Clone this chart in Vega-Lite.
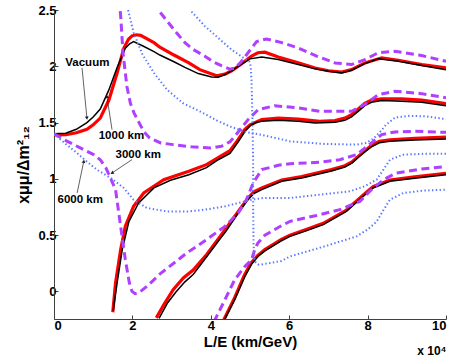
{
  "$schema": "https://vega.github.io/schema/vega-lite/v6.json",
  "width": 392,
  "height": 309,
  "autosize": {"type": "none"},
  "padding": {"left": 54, "top": 10, "right": 11, "bottom": 42},
  "background": "white",
  "view": {"stroke": null},
  "title": {"text": "x 10⁴", "orient": "bottom", "anchor": "end", "fontSize": 12, "fontWeight": "bold", "font": "Liberation Sans", "color": "black", "offset": -3},
  "config": {
    "axis": {"grid": false, "domainColor": "#404040", "tickColor": "#404040", "tickSize": -4, "labelFont": "Liberation Sans", "labelFontWeight": "bold", "labelFontSize": 13, "labelColor": "black", "titleFont": "Liberation Sans", "titleFontWeight": "bold", "titleFontSize": 15, "titleColor": "black"}
  },
  "datasets": {
    "curves": [
      {"g":"vac","s":"KA","x":0,"y":1.40},{"g":"vac","s":"KA","x":0.3,"y":1.405},{"g":"vac","s":"KA","x":0.57,"y":1.44},{"g":"vac","s":"KA","x":0.84,"y":1.50},{"g":"vac","s":"KA","x":1.0,"y":1.55},{"g":"vac","s":"KA","x":1.18,"y":1.62},{"g":"vac","s":"KA","x":1.40,"y":1.79},{"g":"vac","s":"KA","x":1.61,"y":1.99},{"g":"vac","s":"KA","x":1.82,"y":2.16},{"g":"vac","s":"KA","x":1.93,"y":2.20},{"g":"vac","s":"KA","x":2.03,"y":2.22},{"g":"vac","s":"KA","x":2.27,"y":2.18},{"g":"vac","s":"KA","x":2.55,"y":2.13},{"g":"vac","s":"KA","x":2.70,"y":2.10},{"g":"vac","s":"KA","x":3.06,"y":2.04},{"g":"vac","s":"KA","x":3.34,"y":1.99},{"g":"vac","s":"KA","x":3.68,"y":1.935},{"g":"vac","s":"KA","x":4.02,"y":1.905},{"g":"vac","s":"KA","x":4.19,"y":1.903},{"g":"vac","s":"KA","x":4.36,"y":1.926},{"g":"vac","s":"KA","x":4.53,"y":1.96},{"g":"vac","s":"KA","x":4.70,"y":2.0},{"g":"vac","s":"KA","x":5.0,"y":2.066},{"g":"vac","s":"KA","x":5.30,"y":2.083},{"g":"vac","s":"KA","x":5.72,"y":2.06},{"g":"vac","s":"KA","x":6.23,"y":2.015},{"g":"vac","s":"KA","x":6.66,"y":1.977},{"g":"vac","s":"KA","x":7.0,"y":1.955},{"g":"vac","s":"KA","x":7.34,"y":1.94},{"g":"vac","s":"KA","x":7.59,"y":1.965},{"g":"vac","s":"KA","x":7.93,"y":2.024},{"g":"vac","s":"KA","x":8.27,"y":2.066},{"g":"vac","s":"KA","x":8.78,"y":2.045},{"g":"vac","s":"KA","x":9.38,"y":2.006},{"g":"vac","s":"KA","x":10,"y":1.97},
      {"g":"vac","s":"KB","x":1.51,"y":-0.17},{"g":"vac","s":"KB","x":1.61,"y":0.075},{"g":"vac","s":"KB","x":1.74,"y":0.37},{"g":"vac","s":"KB","x":1.91,"y":0.62},{"g":"vac","s":"KB","x":2.16,"y":0.786},{"g":"vac","s":"KB","x":2.55,"y":0.92},{"g":"vac","s":"KB","x":2.97,"y":0.987},{"g":"vac","s":"KB","x":3.44,"y":1.037},{"g":"vac","s":"KB","x":3.89,"y":1.10},{"g":"vac","s":"KB","x":4.19,"y":1.17},{"g":"vac","s":"KB","x":4.49,"y":1.225},{"g":"vac","s":"KB","x":4.70,"y":1.33},{"g":"vac","s":"KB","x":4.87,"y":1.42},{"g":"vac","s":"KB","x":5.0,"y":1.47},{"g":"vac","s":"KB","x":5.15,"y":1.50},{"g":"vac","s":"KB","x":5.30,"y":1.512},{"g":"vac","s":"KB","x":5.72,"y":1.52},{"g":"vac","s":"KB","x":6.23,"y":1.511},{"g":"vac","s":"KB","x":6.66,"y":1.497},{"g":"vac","s":"KB","x":7.17,"y":1.502},{"g":"vac","s":"KB","x":7.42,"y":1.52},{"g":"vac","s":"KB","x":7.59,"y":1.55},{"g":"vac","s":"KB","x":7.76,"y":1.60},{"g":"vac","s":"KB","x":7.93,"y":1.65},{"g":"vac","s":"KB","x":8.1,"y":1.68},{"g":"vac","s":"KB","x":8.36,"y":1.695},{"g":"vac","s":"KB","x":8.87,"y":1.69},{"g":"vac","s":"KB","x":9.38,"y":1.68},{"g":"vac","s":"KB","x":10,"y":1.65},
      {"g":"vac","s":"KC","x":2.68,"y":-0.24},{"g":"vac","s":"KC","x":2.9,"y":-0.1},{"g":"vac","s":"KC","x":3.12,"y":0.0},{"g":"vac","s":"KC","x":3.34,"y":0.085},{"g":"vac","s":"KC","x":3.55,"y":0.15},{"g":"vac","s":"KC","x":3.9,"y":0.31},{"g":"vac","s":"KC","x":4.2,"y":0.45},{"g":"vac","s":"KC","x":4.4,"y":0.54},{"g":"vac","s":"KC","x":4.70,"y":0.697},{"g":"vac","s":"KC","x":4.95,"y":0.815},{"g":"vac","s":"KC","x":5.1,"y":0.87},{"g":"vac","s":"KC","x":5.30,"y":0.904},{"g":"vac","s":"KC","x":5.81,"y":0.978},{"g":"vac","s":"KC","x":6.32,"y":1.008},{"g":"vac","s":"KC","x":6.78,"y":1.046},{"g":"vac","s":"KC","x":7.08,"y":1.07},{"g":"vac","s":"KC","x":7.42,"y":1.105},{"g":"vac","s":"KC","x":7.6,"y":1.14},{"g":"vac","s":"KC","x":7.76,"y":1.19},{"g":"vac","s":"KC","x":7.93,"y":1.24},{"g":"vac","s":"KC","x":8.10,"y":1.285},{"g":"vac","s":"KC","x":8.3,"y":1.32},{"g":"vac","s":"KC","x":8.57,"y":1.333},{"g":"vac","s":"KC","x":9.21,"y":1.345},{"g":"vac","s":"KC","x":10,"y":1.355},
      {"g":"vac","s":"KD","x":4.34,"y":-0.26},{"g":"vac","s":"KD","x":4.61,"y":-0.074},{"g":"vac","s":"KD","x":4.87,"y":0.133},{"g":"vac","s":"KD","x":5.04,"y":0.24},{"g":"vac","s":"KD","x":5.2,"y":0.31},{"g":"vac","s":"KD","x":5.38,"y":0.36},{"g":"vac","s":"KD","x":5.8,"y":0.45},{"g":"vac","s":"KD","x":6.02,"y":0.489},{"g":"vac","s":"KD","x":6.45,"y":0.54},{"g":"vac","s":"KD","x":6.87,"y":0.593},{"g":"vac","s":"KD","x":7.46,"y":0.711},{"g":"vac","s":"KD","x":7.89,"y":0.845},{"g":"vac","s":"KD","x":8.14,"y":0.919},{"g":"vac","s":"KD","x":8.57,"y":0.978},{"g":"vac","s":"KD","x":9.2,"y":1.005},{"g":"vac","s":"KD","x":10,"y":1.037},
      {"g":"1000","s":"RA","x":0,"y":1.39},{"g":"1000","s":"RA","x":0.3,"y":1.392},{"g":"1000","s":"RA","x":0.57,"y":1.41},{"g":"1000","s":"RA","x":0.84,"y":1.44},{"g":"1000","s":"RA","x":1.0,"y":1.48},{"g":"1000","s":"RA","x":1.18,"y":1.54},{"g":"1000","s":"RA","x":1.40,"y":1.70},{"g":"1000","s":"RA","x":1.61,"y":1.94},{"g":"1000","s":"RA","x":1.78,"y":2.16},{"g":"1000","s":"RA","x":1.90,"y":2.24},{"g":"1000","s":"RA","x":1.99,"y":2.27},{"g":"1000","s":"RA","x":2.1,"y":2.28},{"g":"1000","s":"RA","x":2.21,"y":2.275},{"g":"1000","s":"RA","x":2.55,"y":2.21},{"g":"1000","s":"RA","x":2.70,"y":2.17},{"g":"1000","s":"RA","x":3.06,"y":2.10},{"g":"1000","s":"RA","x":3.44,"y":2.03},{"g":"1000","s":"RA","x":3.72,"y":1.97},{"g":"1000","s":"RA","x":4.15,"y":1.915},{"g":"1000","s":"RA","x":4.36,"y":1.93},{"g":"1000","s":"RA","x":4.53,"y":1.96},{"g":"1000","s":"RA","x":4.70,"y":2.0},{"g":"1000","s":"RA","x":5.04,"y":2.09},{"g":"1000","s":"RA","x":5.2,"y":2.12},{"g":"1000","s":"RA","x":5.38,"y":2.125},{"g":"1000","s":"RA","x":5.72,"y":2.083},{"g":"1000","s":"RA","x":6.23,"y":2.03},{"g":"1000","s":"RA","x":6.66,"y":1.985},{"g":"1000","s":"RA","x":7.0,"y":1.96},{"g":"1000","s":"RA","x":7.34,"y":1.948},{"g":"1000","s":"RA","x":7.59,"y":1.97},{"g":"1000","s":"RA","x":7.93,"y":2.03},{"g":"1000","s":"RA","x":8.36,"y":2.075},{"g":"1000","s":"RA","x":8.78,"y":2.054},{"g":"1000","s":"RA","x":9.38,"y":2.015},{"g":"1000","s":"RA","x":10,"y":1.986},
      {"g":"1000","s":"RB","x":1.50,"y":-0.185},{"g":"1000","s":"RB","x":1.57,"y":0.075},{"g":"1000","s":"RB","x":1.70,"y":0.37},{"g":"1000","s":"RB","x":1.82,"y":0.58},{"g":"1000","s":"RB","x":2.03,"y":0.756},{"g":"1000","s":"RB","x":2.29,"y":0.875},{"g":"1000","s":"RB","x":2.80,"y":0.993},{"g":"1000","s":"RB","x":3.44,"y":1.067},{"g":"1000","s":"RB","x":3.89,"y":1.126},{"g":"1000","s":"RB","x":4.2,"y":1.19},{"g":"1000","s":"RB","x":4.49,"y":1.25},{"g":"1000","s":"RB","x":4.70,"y":1.35},{"g":"1000","s":"RB","x":4.87,"y":1.44},{"g":"1000","s":"RB","x":5.0,"y":1.48},{"g":"1000","s":"RB","x":5.30,"y":1.526},{"g":"1000","s":"RB","x":5.72,"y":1.54},{"g":"1000","s":"RB","x":6.23,"y":1.53},{"g":"1000","s":"RB","x":6.78,"y":1.51},{"g":"1000","s":"RB","x":7.17,"y":1.518},{"g":"1000","s":"RB","x":7.42,"y":1.54},{"g":"1000","s":"RB","x":7.59,"y":1.57},{"g":"1000","s":"RB","x":7.93,"y":1.67},{"g":"1000","s":"RB","x":8.1,"y":1.70},{"g":"1000","s":"RB","x":8.36,"y":1.71},{"g":"1000","s":"RB","x":8.87,"y":1.71},{"g":"1000","s":"RB","x":9.38,"y":1.70},{"g":"1000","s":"RB","x":10,"y":1.668},
      {"g":"1000","s":"RC","x":2.61,"y":-0.235},{"g":"1000","s":"RC","x":2.8,"y":-0.12},{"g":"1000","s":"RC","x":3.04,"y":0.015},{"g":"1000","s":"RC","x":3.3,"y":0.12},{"g":"1000","s":"RC","x":3.55,"y":0.19},{"g":"1000","s":"RC","x":3.9,"y":0.33},{"g":"1000","s":"RC","x":4.2,"y":0.47},{"g":"1000","s":"RC","x":4.4,"y":0.565},{"g":"1000","s":"RC","x":4.70,"y":0.71},{"g":"1000","s":"RC","x":4.95,"y":0.83},{"g":"1000","s":"RC","x":5.1,"y":0.885},{"g":"1000","s":"RC","x":5.30,"y":0.92},{"g":"1000","s":"RC","x":5.81,"y":0.99},{"g":"1000","s":"RC","x":6.32,"y":1.02},{"g":"1000","s":"RC","x":6.78,"y":1.058},{"g":"1000","s":"RC","x":7.08,"y":1.082},{"g":"1000","s":"RC","x":7.42,"y":1.117},{"g":"1000","s":"RC","x":7.6,"y":1.15},{"g":"1000","s":"RC","x":7.76,"y":1.2},{"g":"1000","s":"RC","x":7.93,"y":1.25},{"g":"1000","s":"RC","x":8.10,"y":1.297},{"g":"1000","s":"RC","x":8.3,"y":1.333},{"g":"1000","s":"RC","x":8.57,"y":1.347},{"g":"1000","s":"RC","x":9.21,"y":1.36},{"g":"1000","s":"RC","x":10,"y":1.37},
      {"g":"1000","s":"RD","x":4.32,"y":-0.26},{"g":"1000","s":"RD","x":4.59,"y":-0.07},{"g":"1000","s":"RD","x":4.85,"y":0.14},{"g":"1000","s":"RD","x":5.02,"y":0.25},{"g":"1000","s":"RD","x":5.2,"y":0.32},{"g":"1000","s":"RD","x":5.38,"y":0.372},{"g":"1000","s":"RD","x":5.8,"y":0.462},{"g":"1000","s":"RD","x":6.02,"y":0.5},{"g":"1000","s":"RD","x":6.45,"y":0.552},{"g":"1000","s":"RD","x":6.87,"y":0.605},{"g":"1000","s":"RD","x":7.46,"y":0.723},{"g":"1000","s":"RD","x":7.89,"y":0.857},{"g":"1000","s":"RD","x":8.14,"y":0.931},{"g":"1000","s":"RD","x":8.57,"y":0.99},{"g":"1000","s":"RD","x":9.2,"y":1.018},{"g":"1000","s":"RD","x":10,"y":1.05},
      {"g":"3000","s":"P1","x":0,"y":1.40},{"g":"3000","s":"P1","x":0.34,"y":1.333},{"g":"3000","s":"P1","x":0.67,"y":1.275},{"g":"3000","s":"P1","x":1.01,"y":1.215},{"g":"3000","s":"P1","x":1.18,"y":1.17},{"g":"3000","s":"P1","x":1.32,"y":1.10},{"g":"3000","s":"P1","x":1.44,"y":1.008},{"g":"3000","s":"P1","x":1.57,"y":0.904},{"g":"3000","s":"P1","x":1.70,"y":0.578},{"g":"3000","s":"P1","x":1.82,"y":0.282},{"g":"3000","s":"P1","x":1.92,"y":0.08},{"g":"3000","s":"P1","x":1.99,"y":0.0},{"g":"3000","s":"P1","x":2.07,"y":-0.02},{"g":"3000","s":"P1","x":2.15,"y":-0.015},{"g":"3000","s":"P1","x":2.37,"y":0.045},{"g":"3000","s":"P1","x":2.72,"y":0.16},{"g":"3000","s":"P1","x":2.87,"y":0.2},{"g":"3000","s":"P1","x":3.38,"y":0.34},{"g":"3000","s":"P1","x":3.85,"y":0.45},{"g":"3000","s":"P1","x":4.36,"y":0.578},{"g":"3000","s":"P1","x":4.70,"y":0.697},{"g":"3000","s":"P1","x":4.91,"y":0.815},{"g":"3000","s":"P1","x":5.08,"y":0.963},{"g":"3000","s":"P1","x":5.30,"y":1.082},{"g":"3000","s":"P1","x":5.72,"y":1.12},{"g":"3000","s":"P1","x":6.02,"y":1.135},{"g":"3000","s":"P1","x":6.78,"y":1.147},{"g":"3000","s":"P1","x":7.29,"y":1.17},{"g":"3000","s":"P1","x":7.72,"y":1.215},{"g":"3000","s":"P1","x":8.10,"y":1.319},{"g":"3000","s":"P1","x":8.36,"y":1.393},{"g":"3000","s":"P1","x":8.70,"y":1.417},{"g":"3000","s":"P1","x":9.21,"y":1.422},{"g":"3000","s":"P1","x":10,"y":1.413},
      {"g":"3000","s":"P2","x":1.66,"y":2.6},{"g":"3000","s":"P2","x":1.70,"y":2.45},{"g":"3000","s":"P2","x":1.76,"y":2.12},{"g":"3000","s":"P2","x":1.86,"y":1.82},{"g":"3000","s":"P2","x":1.95,"y":1.67},{"g":"3000","s":"P2","x":2.04,"y":1.586},{"g":"3000","s":"P2","x":2.29,"y":1.42},{"g":"3000","s":"P2","x":2.44,"y":1.363},{"g":"3000","s":"P2","x":2.72,"y":1.319},{"g":"3000","s":"P2","x":3.04,"y":1.304},{"g":"3000","s":"P2","x":3.5,"y":1.285},{"g":"3000","s":"P2","x":4.0,"y":1.275},{"g":"3000","s":"P2","x":4.27,"y":1.289},{"g":"3000","s":"P2","x":4.49,"y":1.33},{"g":"3000","s":"P2","x":4.61,"y":1.378},{"g":"3000","s":"P2","x":4.95,"y":1.526},{"g":"3000","s":"P2","x":5.21,"y":1.615},{"g":"3000","s":"P2","x":5.63,"y":1.65},{"g":"3000","s":"P2","x":6.23,"y":1.63},{"g":"3000","s":"P2","x":6.78,"y":1.6},{"g":"3000","s":"P2","x":7.17,"y":1.6},{"g":"3000","s":"P2","x":7.59,"y":1.6},{"g":"3000","s":"P2","x":7.93,"y":1.66},{"g":"3000","s":"P2","x":8.27,"y":1.748},{"g":"3000","s":"P2","x":8.70,"y":1.778},{"g":"3000","s":"P2","x":9.38,"y":1.757},{"g":"3000","s":"P2","x":10,"y":1.72},
      {"g":"3000","s":"P3","x":2.6,"y":2.58},{"g":"3000","s":"P3","x":2.66,"y":2.5},{"g":"3000","s":"P3","x":3.12,"y":2.30},{"g":"3000","s":"P3","x":3.34,"y":2.21},{"g":"3000","s":"P3","x":3.55,"y":2.15},{"g":"3000","s":"P3","x":3.85,"y":2.09},{"g":"3000","s":"P3","x":4.06,"y":2.04},{"g":"3000","s":"P3","x":4.27,"y":2.005},{"g":"3000","s":"P3","x":4.49,"y":1.975},{"g":"3000","s":"P3","x":4.61,"y":1.985},{"g":"3000","s":"P3","x":4.75,"y":2.03},{"g":"3000","s":"P3","x":4.95,"y":2.12},{"g":"3000","s":"P3","x":5.17,"y":2.22},{"g":"3000","s":"P3","x":5.42,"y":2.243},{"g":"3000","s":"P3","x":5.81,"y":2.21},{"g":"3000","s":"P3","x":6.23,"y":2.163},{"g":"3000","s":"P3","x":6.7,"y":2.09},{"g":"3000","s":"P3","x":7.17,"y":2.03},{"g":"3000","s":"P3","x":7.59,"y":2.015},{"g":"3000","s":"P3","x":7.93,"y":2.06},{"g":"3000","s":"P3","x":8.27,"y":2.12},{"g":"3000","s":"P3","x":8.70,"y":2.133},{"g":"3000","s":"P3","x":9.38,"y":2.095},{"g":"3000","s":"P3","x":10,"y":2.045},
      {"g":"3000","s":"P4","x":4.08,"y":-0.27},{"g":"3000","s":"P4","x":4.36,"y":-0.074},{"g":"3000","s":"P4","x":4.61,"y":0.104},{"g":"3000","s":"P4","x":4.87,"y":0.222},{"g":"3000","s":"P4","x":5.04,"y":0.282},{"g":"3000","s":"P4","x":5.12,"y":0.37},{"g":"3000","s":"P4","x":5.2,"y":0.43},{"g":"3000","s":"P4","x":5.38,"y":0.5},{"g":"3000","s":"P4","x":5.81,"y":0.585},{"g":"3000","s":"P4","x":6.02,"y":0.622},{"g":"3000","s":"P4","x":6.7,"y":0.675},{"g":"3000","s":"P4","x":7.29,"y":0.726},{"g":"3000","s":"P4","x":7.80,"y":0.8},{"g":"3000","s":"P4","x":8.14,"y":0.919},{"g":"3000","s":"P4","x":8.44,"y":1.0},{"g":"3000","s":"P4","x":8.74,"y":1.052},{"g":"3000","s":"P4","x":9.38,"y":1.088},{"g":"3000","s":"P4","x":10,"y":1.108},
      {"g":"6000","s":"B1","x":0,"y":1.40},{"g":"6000","s":"B1","x":0.3,"y":1.31},{"g":"6000","s":"B1","x":0.55,"y":1.24},{"g":"6000","s":"B1","x":0.78,"y":1.17},{"g":"6000","s":"B1","x":1.1,"y":1.08},{"g":"6000","s":"B1","x":1.48,"y":1.0},{"g":"6000","s":"B1","x":1.78,"y":0.919},{"g":"6000","s":"B1","x":2.03,"y":0.815},{"g":"6000","s":"B1","x":2.37,"y":0.741},{"g":"6000","s":"B1","x":2.88,"y":0.711},{"g":"6000","s":"B1","x":3.44,"y":0.711},{"g":"6000","s":"B1","x":3.85,"y":0.726},{"g":"6000","s":"B1","x":4.36,"y":0.756},{"g":"6000","s":"B1","x":4.87,"y":0.80},{"g":"6000","s":"B1","x":5.05,"y":0.815},{"g":"6000","s":"B1","x":5.34,"y":0.83},{"g":"6000","s":"B1","x":6.02,"y":0.83},{"g":"6000","s":"B1","x":6.66,"y":0.855},{"g":"6000","s":"B1","x":7.55,"y":0.889},{"g":"6000","s":"B1","x":7.93,"y":0.935},{"g":"6000","s":"B1","x":8.23,"y":0.993},{"g":"6000","s":"B1","x":8.4,"y":1.08},{"g":"6000","s":"B1","x":8.57,"y":1.17},{"g":"6000","s":"B1","x":8.91,"y":1.215},{"g":"6000","s":"B1","x":9.4,"y":1.222},{"g":"6000","s":"B1","x":10,"y":1.224},
      {"g":"6000","s":"B2","x":1.86,"y":2.6},{"g":"6000","s":"B2","x":1.89,"y":2.5},{"g":"6000","s":"B2","x":2.03,"y":2.30},{"g":"6000","s":"B2","x":2.25,"y":2.11},{"g":"6000","s":"B2","x":2.55,"y":1.94},{"g":"6000","s":"B2","x":2.89,"y":1.79},{"g":"6000","s":"B2","x":3.3,"y":1.67},{"g":"6000","s":"B2","x":3.72,"y":1.60},{"g":"6000","s":"B2","x":4.15,"y":1.52},{"g":"6000","s":"B2","x":4.49,"y":1.465},{"g":"6000","s":"B2","x":4.91,"y":1.415},{"g":"6000","s":"B2","x":5.3,"y":1.39},{"g":"6000","s":"B2","x":5.76,"y":1.355},{"g":"6000","s":"B2","x":6.02,"y":1.333},{"g":"6000","s":"B2","x":6.9,"y":1.31},{"g":"6000","s":"B2","x":7.72,"y":1.304},{"g":"6000","s":"B2","x":7.95,"y":1.318},{"g":"6000","s":"B2","x":8.14,"y":1.355},{"g":"6000","s":"B2","x":8.3,"y":1.41},{"g":"6000","s":"B2","x":8.47,"y":1.48},{"g":"6000","s":"B2","x":8.70,"y":1.545},{"g":"6000","s":"B2","x":9.08,"y":1.56},{"g":"6000","s":"B2","x":9.5,"y":1.555},{"g":"6000","s":"B2","x":10,"y":1.53},
      {"g":"6000","s":"B3","x":3.42,"y":2.58},{"g":"6000","s":"B3","x":3.47,"y":2.5},{"g":"6000","s":"B3","x":3.85,"y":2.356},{"g":"6000","s":"B3","x":4.19,"y":2.252},{"g":"6000","s":"B3","x":4.53,"y":2.148},{"g":"6000","s":"B3","x":4.87,"y":2.066},{"g":"6000","s":"B3","x":4.98,"y":2.044},{"g":"6000","s":"B3","x":5.02,"y":2.0},{"g":"6000","s":"B3","x":5.04,"y":1.852},{"g":"6000","s":"B3","x":5.06,"y":1.556},{"g":"6000","s":"B3","x":5.08,"y":1.17},{"g":"6000","s":"B3","x":5.08,"y":0.786},{"g":"6000","s":"B3","x":5.09,"y":0.43},{"g":"6000","s":"B3","x":5.12,"y":0.267},{"g":"6000","s":"B3","x":5.2,"y":0.24},{"g":"6000","s":"B3","x":5.25,"y":0.237},{"g":"6000","s":"B3","x":5.8,"y":0.27},{"g":"6000","s":"B3","x":6.02,"y":0.311},{"g":"6000","s":"B3","x":6.9,"y":0.4},{"g":"6000","s":"B3","x":7.72,"y":0.489},{"g":"6000","s":"B3","x":8.0,"y":0.55},{"g":"6000","s":"B3","x":8.23,"y":0.62},{"g":"6000","s":"B3","x":8.4,"y":0.72},{"g":"6000","s":"B3","x":8.57,"y":0.815},{"g":"6000","s":"B3","x":8.91,"y":0.874},{"g":"6000","s":"B3","x":9.4,"y":0.895},{"g":"6000","s":"B3","x":10,"y":0.904}
    ],
    "ann": [
      {"label":"Vacuum","lx":0.85,"ly":2.03,"ax":0.715,"ay":1.986,"tx":0.84,"ty":1.54},
      {"label":"1000 km","lx":1.72,"ly":1.384,"ax":1.48,"ay":1.437,"tx":1.35,"ty":1.733},
      {"label":"3000 km","lx":2.15,"ly":1.216,"ax":1.99,"ay":1.171,"tx":1.48,"ty":1.052},
      {"label":"6000 km","lx":0.67,"ly":0.815,"ax":0.59,"ay":0.875,"tx":0.76,"ty":1.156}
    ]
  },
  "encoding": {
    "x": {"field": "x", "type": "quantitative", "scale": {"domain": [0, 10], "nice": false, "zero": false},
      "axis": {"title": "L/E  (km/GeV)", "values": [0, 2, 4, 6, 8, 10], "format": "d", "labelPadding": 4, "titlePadding": 2}},
    "y": {"field": "y", "type": "quantitative", "scale": {"domain": [-0.245, 2.5], "nice": false, "zero": false},
      "axis": {"title": "xμμ/Δm²₁₂", "values": [0, 0.5, 1, 1.5, 2, 2.5], "format": "~g", "labelPadding": 2, "titlePadding": 6, "titleFontSize": 16}}
  },
  "layer": [
    {"data": {"name": "curves"}, "transform": [{"filter": "datum.g == '1000'"}],
      "mark": {"type": "line", "clip": true, "color": "#ff0000", "strokeWidth": 3.2},
      "encoding": {"detail": {"field": "s"}, "order": {"value": null}}},
    {"data": {"name": "curves"}, "transform": [{"filter": "datum.g == 'vac'"}],
      "mark": {"type": "line", "clip": true, "color": "#000000", "strokeWidth": 1.5},
      "encoding": {"detail": {"field": "s"}, "order": {"value": null}}},
    {"data": {"name": "curves"}, "transform": [{"filter": "datum.g == '3000'"}],
      "mark": {"type": "line", "clip": true, "color": "#b040ff", "strokeWidth": 3, "strokeDash": [8, 4.5]},
      "encoding": {"detail": {"field": "s"}, "order": {"value": null}}},
    {"data": {"name": "curves"}, "transform": [{"filter": "datum.g == '6000'"}],
      "mark": {"type": "line", "clip": true, "color": "#5a78ff", "strokeWidth": 2, "strokeDash": [1.4, 2.4]},
      "encoding": {"detail": {"field": "s"}, "order": {"value": null}}},
    {"data": {"name": "ann"},
      "mark": {"type": "rule", "color": "#202020", "strokeWidth": 0.7},
      "encoding": {"x": {"field": "ax", "type": "quantitative"}, "y": {"field": "ay", "type": "quantitative"}, "x2": {"field": "tx"}, "y2": {"field": "ty"}}},
    {"data": {"name": "ann"}, "transform": [{"filter": "datum.label == 'Vacuum'"}],
      "mark": {"type": "point", "shape": "triangle-up", "filled": true, "color": "#202020", "size": 14, "angle": 174, "opacity": 1},
      "encoding": {"x": {"field": "tx", "type": "quantitative"}, "y": {"field": "ty", "type": "quantitative"}}},
    {"data": {"name": "ann"}, "transform": [{"filter": "datum.label == '1000 km'"}],
      "mark": {"type": "point", "shape": "triangle-up", "filled": true, "color": "#202020", "size": 14, "angle": 351, "opacity": 1},
      "encoding": {"x": {"field": "tx", "type": "quantitative"}, "y": {"field": "ty", "type": "quantitative"}}},
    {"data": {"name": "ann"}, "transform": [{"filter": "datum.label == '3000 km'"}],
      "mark": {"type": "point", "shape": "triangle-up", "filled": true, "color": "#202020", "size": 14, "angle": 236, "opacity": 1},
      "encoding": {"x": {"field": "tx", "type": "quantitative"}, "y": {"field": "ty", "type": "quantitative"}}},
    {"data": {"name": "ann"}, "transform": [{"filter": "datum.label == '6000 km'"}],
      "mark": {"type": "point", "shape": "triangle-up", "filled": true, "color": "#202020", "size": 14, "angle": 12, "opacity": 1},
      "encoding": {"x": {"field": "tx", "type": "quantitative"}, "y": {"field": "ty", "type": "quantitative"}}},
    {"data": {"name": "ann"},
      "mark": {"type": "text", "font": "Liberation Sans", "fontWeight": "bold", "fontSize": 11.5, "color": "black", "align": "center", "baseline": "middle"},
      "encoding": {"x": {"field": "lx", "type": "quantitative"}, "y": {"field": "ly", "type": "quantitative"}, "text": {"field": "label"}}}
  ]
}
